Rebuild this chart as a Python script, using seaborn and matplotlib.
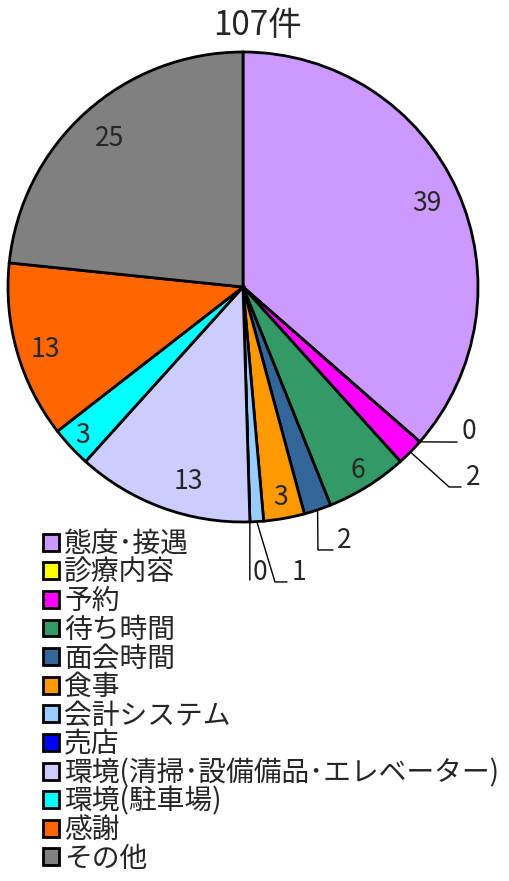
import numpy as np
import matplotlib
matplotlib.use('Agg')
import matplotlib.pyplot as plt
import seaborn as sns

# データ
categories = ['態度･接遇', '診療内容', '予約', '待ち時間', '面会時間', '食事',
              '会計システム', '売店', '環境(清掃･設備備品･エレベーター)',
              '環境(駐車場)', '感謝', 'その他']
counts = [39, 0, 2, 6, 2, 3, 1, 0, 13, 3, 13, 25]
colors = ['#CC99FF', '#FFFF00', '#FF00FF', '#339966', '#336699', '#FF9900',
          '#99CCFF', '#0000FF', '#CCCCFF', '#00FFFF', '#FF6600', '#808080']
title = f'{sum(counts)}件'

sns.set_theme(style='white')
plt.rcParams['font.family'] = ['Noto Sans CJK JP', 'DejaVu Sans']

fig = plt.figure(figsize=(5.09, 8.81), dpi=100)
# 円の中心 (243, 287) px, 半径 235 px
ax = fig.add_axes([8 / 509, 359 / 881, 470 / 509, 470 / 881])

wedges, _ = ax.pie(counts, colors=colors, startangle=90, counterclock=False,
                   wedgeprops=dict(edgecolor='black', linewidth=2))
ax.set_xlim(-1, 1)
ax.set_ylim(-1, 1)
ax.axis('off')

# 内側ラベルの位置調整 (半径, 角度のずれ)
label_r = {0: 0.86, 3: 0.92, 5: 0.91, 8: 0.86, 9: 0.93, 10: 0.88, 11: 0.85}
label_shift = {8: 4.5, 10: 1.5}

# 小さい区分は引き出し線で外側に表示 (index: 線の折れ点, 終点, 文字位置)
leaders = {
    1: [(0.911, -0.660), (0.911, -0.660), (0.932, -0.617)],
    2: [(0.877, -0.851), (0.928, -0.851), (0.948, -0.809)],
    4: [(0.319, -1.119), (0.383, -1.119), (0.400, -1.077)],
    6: [(0.136, -1.255), (0.187, -1.255), (0.208, -1.213)],
    7: [(0.029, -1.247), (0.029, -1.247), (0.040, -1.213)],
}

for i, (w, v) in enumerate(zip(wedges, counts)):
    mid = np.deg2rad((w.theta1 + w.theta2) / 2 + label_shift.get(i, 0))
    if i in leaders:
        p0 = (np.cos(mid), np.sin(mid))
        (ex, ey), (fx, fy), (tx, ty) = leaders[i]
        ax.plot([p0[0], ex, fx], [p0[1], ey, fy], color='black', lw=1,
                clip_on=False)
        ax.text(tx, ty, str(v), ha='left', va='center', fontsize=19,
                clip_on=False)
    else:
        r = label_r.get(i, 0.88)
        ax.text(r * np.cos(mid), r * np.sin(mid), str(v), ha='center',
                va='center', fontsize=19)

fig.text(257 / 509, 1 - 25 / 881, title, ha='center', va='center', fontsize=24)

fig.legend(wedges, categories, loc='upper left',
           bbox_to_anchor=(43 / 509, 1 - 529 / 881), frameon=False,
           fontsize=20, handlelength=0.56, handleheight=0.56,
           handletextpad=0.2, labelspacing=-0.05, borderpad=0,
           borderaxespad=0)

fig.savefig('out.png', dpi=100)
